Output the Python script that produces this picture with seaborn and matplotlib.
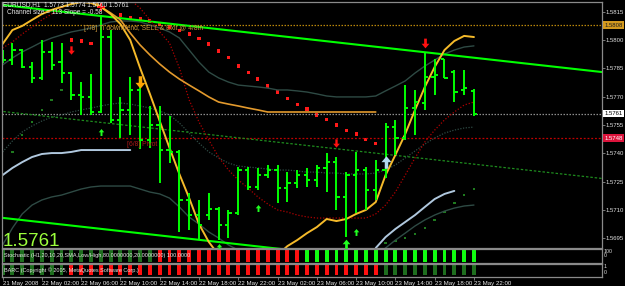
import numpy as np
import pandas as pd
import matplotlib
matplotlib.use("Agg")
import matplotlib.pyplot as plt
from matplotlib.path import Path
import matplotlib.transforms as mtransforms
import seaborn as sns

sns.set_theme(style="dark", rc={"axes.facecolor": "black", "figure.facecolor": "black"})
plt.rcParams["font.family"] = ["Liberation Sans", "DejaVu Sans"]

# ---------------- data (EURUSD H1, 21 May 2008 22:00 .. 23 May 2008 22:00) ----------------
bars = [0, 1, 2, 3, 4, 5, 6, 7, 8, 9, 10, 11, 12, 13, 14, 15, 16, 17, 18, 19, 20, 21, 22, 23, 24,
        25, 26, 27, 28, 29, 30, 31, 32, 33, 34, 35, 36, 37, 38, 39, 40, 41, 42, 43, 44, 45, 46, 47, 48]

opens = [1.57922, 1.57895, 1.57948, 1.57858, 1.57800, 1.57938, 1.57884, 1.57826, 1.57709, 1.57699,
         1.57619, 1.58017, 1.57577, 1.57630, 1.57736, 1.57470, 1.57550, 1.57417, 1.57407, 1.57152,
         1.57072, 1.57072, 1.57104, 1.57019, 1.57083, 1.57311, 1.57221, 1.57284, 1.57311, 1.57215,
         1.57242, 1.57284, 1.57258, 1.57322, 1.57353, 1.57168, 1.57284, 1.57311, 1.57205, 1.57311,
         1.57539, 1.57481, 1.57640, 1.57667, 1.57805, 1.57900, 1.57831, 1.57736, 1.5773]
highs = [1.57948, 1.57985, 1.57954, 1.57884, 1.58001, 1.57991, 1.57985, 1.57831, 1.57778, 1.57821,
         1.58134, 1.58054, 1.57699, 1.57805, 1.57752, 1.57651, 1.57651, 1.57598, 1.57417, 1.57189,
         1.57152, 1.57189, 1.57115, 1.57099, 1.57327, 1.57327, 1.57322, 1.57338, 1.57338, 1.57300,
         1.57311, 1.57322, 1.57338, 1.57401, 1.57380, 1.57300, 1.57407, 1.57327, 1.57364, 1.57561,
         1.57577, 1.57762, 1.57736, 1.57938, 1.57900, 1.57900, 1.57842, 1.57842, 1.5774]
lows = [1.57879, 1.57869, 1.57853, 1.57773, 1.57789, 1.57842, 1.57773, 1.57683, 1.57603, 1.57603,
        1.57614, 1.57561, 1.57481, 1.57497, 1.57423, 1.57428, 1.57242, 1.57348, 1.56982, 1.56992,
        1.56939, 1.57046, 1.56939, 1.56950, 1.57072, 1.57205, 1.57205, 1.57269, 1.57136, 1.57141,
        1.57215, 1.57221, 1.57221, 1.57194, 1.57099, 1.56955, 1.57083, 1.57099, 1.57152, 1.57269,
        1.57391, 1.57470, 1.57497, 1.57630, 1.57709, 1.57800, 1.57672, 1.57709, 1.5760]
closes = [1.57895, 1.57948, 1.57858, 1.57800, 1.57938, 1.57869, 1.57826, 1.57709, 1.57699, 1.57619,
          1.58017, 1.57577, 1.57630, 1.57736, 1.57470, 1.57550, 1.57417, 1.57407, 1.57152, 1.57072,
          1.57019, 1.57104, 1.57019, 1.57083, 1.57311, 1.57221, 1.57284, 1.57311, 1.57215, 1.57242,
          1.57284, 1.57258, 1.57322, 1.57353, 1.57168, 1.57284, 1.57311, 1.57205, 1.57311, 1.57539,
          1.57481, 1.57640, 1.57672, 1.57805, 1.57815, 1.57800, 1.57725, 1.57746, 1.5761]

fast_ma = [1.57980, 1.58054, 1.58076, 1.58108, 1.58139, 1.58161, 1.58177, 1.58192, 1.58203, 1.58198,
           1.58177, 1.58139, 1.58086, 1.58001, 1.57853, 1.57715, 1.57571, 1.57428, 1.57290, 1.57162,
           1.57024, 1.56929, 1.56860, 1.56822, 1.56801, 1.56791, 1.56791, 1.56807, 1.56860, 1.56907,
           1.56939, 1.56976, 1.57008, 1.57051, 1.57040, 1.57051, 1.57078, 1.57099, 1.57141, 1.57284,
           1.57391, 1.57502, 1.57630, 1.57752, 1.57858, 1.57948, 1.57996, 1.58023, 1.58017]

slow_ma_bars = [8, 9, 10, 11, 12, 13, 14, 15, 16, 17, 18, 19, 20, 21, 22, 23, 24, 25, 26, 27,
                28, 29, 30, 31, 32, 33, 34, 35, 36, 37, 38]
slow_ma = [1.58267, 1.58224, 1.58177, 1.58145, 1.58108, 1.58038, 1.57975, 1.57922, 1.57874, 1.57831,
           1.57794, 1.57762, 1.57731, 1.57699, 1.57672, 1.57661, 1.57651, 1.57640, 1.57630, 1.57619,
           1.57619, 1.57619, 1.57619, 1.57619, 1.57619, 1.57619, 1.57619, 1.57619, 1.57619, 1.57619, 1.57619]

red_env = [1.57959, 1.57991, 1.58033, 1.58070, 1.58108, 1.58139, 1.58171, 1.58198, 1.58224, 1.58240,
           1.58246, 1.58240, 1.58230, 1.58214, 1.58171, 1.58108, 1.58044, 1.57985, 1.57853, 1.57683,
           1.57566, 1.57470, 1.57380, 1.57311, 1.57258, 1.57215, 1.57168, 1.57131, 1.57099, 1.57088,
           1.57072, 1.57062, 1.57056, 1.57056, 1.57056, 1.57056, 1.57056, 1.57056, 1.57078, 1.57125,
           1.57194, 1.57284, 1.57375, 1.57460, 1.57523, 1.57577, 1.57619, 1.57656, 1.57672]

band_upper = [1.57869, 1.57906, 1.57938, 1.57964, 1.57991, 1.58012, 1.58028, 1.58044, 1.58054, 1.58065,
              1.58081, 1.58097, 1.58102, 1.58102, 1.58097, 1.58081, 1.58065, 1.58044, 1.58012, 1.57948,
              1.57884, 1.57831, 1.57800, 1.57778, 1.57762, 1.57757, 1.57752, 1.57746, 1.57736, 1.57736,
              1.57731, 1.57725, 1.57715, 1.57704, 1.57699, 1.57699, 1.57699, 1.57699, 1.57704, 1.57731,
              1.57757, 1.57784, 1.57826, 1.57863, 1.57895, 1.57927, 1.57948, 1.57964, 1.57970]
band_mid = [1.57407, 1.57465, 1.57513, 1.57545, 1.57571, 1.57592, 1.57603, 1.57619, 1.57630, 1.57640,
            1.57651, 1.57661, 1.57667, 1.57661, 1.57651, 1.57640, 1.57624, 1.57603, 1.57561, 1.57507,
            1.57454, 1.57407, 1.57375, 1.57348, 1.57332, 1.57327, 1.57322, 1.57316, 1.57311, 1.57311,
            1.57306, 1.57300, 1.57300, 1.57295, 1.57295, 1.57290, 1.57290, 1.57290, 1.57295, 1.57311,
            1.57338, 1.57375, 1.57412, 1.57449, 1.57481, 1.57507, 1.57523, 1.57534, 1.57539]
band_lower = [1.56913, 1.57003, 1.57078, 1.57125, 1.57152, 1.57168, 1.57178, 1.57194, 1.57210, 1.57221,
              1.57226, 1.57226, 1.57226, 1.57226, 1.57210, 1.57194, 1.57184, 1.57162, 1.57115, 1.57061,
              1.57024, 1.56982, 1.56950, 1.56913, 1.56886, 1.56860, 1.56860, 1.56860, 1.56860, 1.56860,
              1.56860, 1.56860, 1.56860, 1.56860, 1.56860, 1.56860, 1.56860, 1.56860, 1.56860, 1.56897,
              1.56939, 1.56976, 1.57014, 1.57046, 1.57072, 1.57093, 1.57109, 1.57120, 1.57125]

trail_a_bars = [0, 1, 2, 3, 4, 5, 6, 7, 8, 9, 10, 11, 12, 13]
trail_a = [1.57284, 1.57322, 1.57353, 1.57380, 1.57396, 1.57401, 1.57401, 1.57407, 1.57417, 1.57417,
           1.57417, 1.57417, 1.57417, 1.57417]
trail_b_bars = [38, 39, 40, 41, 42, 43, 44, 45, 46]
trail_b = [1.56897, 1.56955, 1.56998, 1.57035, 1.57072, 1.57115, 1.57157, 1.57184, 1.57200]

sar_red_bars = [7, 8, 9, 12, 13, 14, 15, 16, 17, 18, 19, 20, 21, 22, 23, 24, 25, 26, 27, 28, 29,
                30, 31, 32, 33, 34, 35, 36, 37, 38]
sar_red = [1.58001, 1.57996, 1.57985, 1.58134, 1.58123, 1.58113, 1.58102, 1.58086, 1.58070, 1.58054,
           1.58033, 1.58007, 1.57980, 1.57943, 1.57906, 1.57863, 1.57831, 1.57794, 1.57757, 1.57725,
           1.57693, 1.57661, 1.57635, 1.57603, 1.57577, 1.57550, 1.57523, 1.57502, 1.57475, 1.57454]
sar_green_bars = [1, 2, 3, 4, 5, 6, 39, 40, 41, 42, 43, 44, 45, 46, 47, 48]
sar_green = [1.57407, 1.57497, 1.57566, 1.57630, 1.57683, 1.57736, 1.56923, 1.56934, 1.56950, 1.56971,
             1.57003, 1.57046, 1.57088, 1.57136, 1.57178, 1.57210]

# channel: top line at first bar, slope per bar, size
channel_top0 = 1.58187
channel_slope = -0.0000583
channel_size = 0.0113

level_808 = 1.5808
level_last = 1.5761
level_pivot = 1.5748

dn_arrow_bars = [7, 14, 34, 43]
dn_arrow_price = [1.57948, 1.57778, 1.57454, 1.57985]
dn_arrow_color = ["#FF1010", "#FFA500", "#FF1010", "#FF1010"]
dn_arrow_size = [6, 9, 6, 7]
up_arrow_bars = [10, 22, 26, 35, 36, 39]
up_arrow_price = [1.57513, 1.56902, 1.57109, 1.56918, 1.56982, 1.57353]
up_arrow_color = ["#20FF20", "#20FF20", "#20FF20", "#20FF20", "#20FF20", "#B0D8F0"]
up_arrow_size = [5, 5, 5, 7, 5, 9]

stoch_state = ["weak"] * 16 + ["down"] * 15 + ["up"] * 18
barc_state = ["weak"] * 7 + ["down"] * 32 + ["weak"] * 10

yticks = [1.5695, 1.5710, 1.5725, 1.5740, 1.5755, 1.5770, 1.5785, 1.5800, 1.5815]
time_tick_bars = [0, 4, 8, 12, 16, 20, 24, 28, 32, 36, 40, 44, 48]
time_labels = ["21 May 2008", "22 May 02:00", "22 May 06:00", "22 May 10:00", "22 May 14:00",
               "22 May 18:00", "22 May 22:00", "23 May 02:00", "23 May 06:00", "23 May 10:00",
               "23 May 14:00", "23 May 18:00", "23 May 22:00"]

# ---------------- figure ----------------
W, H = 625, 286
fig = plt.figure(figsize=(W / 100, H / 100), dpi=100)
fig.patch.set_facecolor("black")


def box(x0, y0, x1, y1):
    return [x0 / W, 1 - y1 / H, (x1 - x0) / W, (y1 - y0) / H]


ax = fig.add_axes(box(2, 2, 602, 248))
ax1 = fig.add_axes(box(2, 249, 602, 263))
ax2 = fig.add_axes(box(2, 264, 602, 277))
XL = (-0.06, 61.04)
for a in (ax, ax1, ax2):
    a.set_facecolor("black")
    a.set_xlim(*XL)
    for s in a.spines.values():
        s.set_color("#8a8a8a")
        s.set_linewidth(0.9)
    a.grid(False)

ax.set_ylim(1.56897, 1.58203)

GRN = "#00FF00"


def line(xs, ys, **kw):
    df = pd.DataFrame({"x": xs, "y": ys}).dropna()
    sns.lineplot(data=df, x="x", y="y", ax=ax, estimator=None, sort=False, legend=False, **kw)


# horizontal levels
ax.axhline(level_808, color="#B8860B", lw=0.9, ls=(0, (1.2, 1.2)))
ax.axhline(level_last, color="#8c8c8c", lw=0.9, ls=(0, (1.2, 1.2)))
ax.axhline(level_pivot, color="#C00000", lw=0.9, ls=(0, (1.5, 1.5)))

# bands
line(bars, band_upper, color="#2E4A44", lw=1.0)
line(bars, band_lower, color="#2E4A44", lw=1.0)
line(bars, band_mid, color="#2E4A44", lw=0.9, linestyle=(0, (1, 1.2)))

# channel
cx = np.array([-1.0, 62.0])
ctop = channel_top0 + channel_slope * cx
line(cx, ctop, color=GRN, lw=1.5)
line(cx, ctop - channel_size, color=GRN, lw=1.5)
line(cx, ctop - channel_size / 2, color="#1E8C1E", lw=0.9, linestyle=(0, (2, 1.5)))

# red envelope
line(bars, red_env, color="#B00000", lw=0.9, linestyle=(0, (1, 1.5)))

# trailing lines
line(trail_a_bars, trail_a, color="#B0C8DE", lw=1.4)
line(trail_b_bars, trail_b, color="#B0C8DE", lw=1.4)

# moving averages
line(slow_ma_bars, slow_ma, color="#E39A2D", lw=1.2)
line(bars, fast_ma, color="#F5BA2A", lw=1.4)

# price bars
b = np.array(bars, dtype=float)
ax.vlines(b, lows, highs, color=GRN, lw=1.4)
ax.hlines(opens, b - 0.33, b, color=GRN, lw=1.4)
ax.hlines(closes, b, b + 0.33, color=GRN, lw=1.4)

# SAR dots
sns.scatterplot(x=sar_red_bars, y=sar_red, ax=ax, marker="s", s=5, color="#FF1A1A",
                edgecolor="none", legend=False)
sns.scatterplot(x=sar_green_bars, y=sar_green, ax=ax, marker="s", s=3, color="#1F7A1F",
                edgecolor="none", legend=False)

# arrows
up_v = [(-0.28, -1.0), (0.28, -1.0), (0.28, 0.05), (0.8, 0.05), (0.0, 1.0), (-0.8, 0.05),
        (-0.28, 0.05), (-0.28, -1.0)]
codes = [Path.MOVETO] + [Path.LINETO] * 6 + [Path.CLOSEPOLY]
up_path = Path(up_v, codes)
dn_path = Path([(x, -y) for x, y in up_v], codes)
for xb, yp, c, sz in zip(dn_arrow_bars, dn_arrow_price, dn_arrow_color, dn_arrow_size):
    ax.scatter([xb], [yp], marker=dn_path, s=sz ** 2, color=c, linewidths=0, zorder=6)
for xb, yp, c, sz in zip(up_arrow_bars, up_arrow_price, up_arrow_color, up_arrow_size):
    ax.scatter([xb], [yp], marker=up_path, s=sz ** 2, color=c, linewidths=0, zorder=6)
ax.scatter([10], [1.58177], marker="P", s=40, color="#FF1010", linewidths=0, zorder=6)

ax.set_xlabel("")
ax.set_ylabel("")

# texts in chart
ax.text(8.3, 1.58063, "[7/8] Ti downtrend, SELL & Exit @ 4/8th", color="#C8963C", fontsize=4.9,
        va="center", ha="left")
ax.text(12.7, 1.57449, "[6/8] Pivot", color="#B01818", fontsize=4.9, va="center", ha="left", zorder=7)
fig.text(3 / W, 1 - 4.5 / H, "EURUSD,H1  1.5773 1.5774 1.5760 1.5761", color="#E8E8E8",
         fontsize=4.7, va="center", ha="left")
fig.text(7 / W, 1 - 12.5 / H, "Channel size = 113 Slope = -0.58", color="#E8E8E8",
         fontsize=4.7, va="center", ha="left")
fig.text(2.5 / W, 1 - 245.5 / H, "1.5761", color="#9CFF3C", fontsize=13.5, va="baseline", ha="left")

# right price axis
ax.yaxis.tick_right()
ax.set_yticks(yticks)
ax.set_yticklabels([f"{v:.4f}" for v in yticks])
ax.tick_params(axis="y", which="both", right=True, left=False, labelright=True, labelleft=False,
               length=2.0, width=0.6, color="#8a8a8a", labelcolor="#E0E0E0", labelsize=4.3, pad=0.9)
ax.tick_params(axis="x", bottom=False, labelbottom=False)

trans = mtransforms.blended_transform_factory(ax.transAxes, ax.transData)
for val, fc, tc in [(level_808, "#D49A1E", "#202020"), (level_last, "#FFFFFF", "#000000"),
                    (level_pivot, "#DC143C", "#FFFFFF")]:
    ax.text(1.0040, val, f"{val:.4f}", transform=trans, fontsize=4.3, color=tc, va="center", ha="left",
            bbox=dict(boxstyle="square,pad=0.2", fc=fc, ec="none"), zorder=10)

# sub panels
col_map = {"weak": "#1E6E1E", "down": "#FF1010", "up": "#10FF10"}
ax1.bar(bars, [1] * len(bars), width=0.4, color=[col_map[s] for s in stoch_state], bottom=0,
        edgecolor="none", linewidth=0)
ax2.bar(bars, [1] * len(bars), width=0.4, color=[col_map[s] for s in barc_state], bottom=0,
        edgecolor="none", linewidth=0)
ax1.set_ylim(-0.12, 1.12)
ax2.set_ylim(-0.15, 1.12)
for a in (ax1, ax2):
    a.set_yticks([])
    a.tick_params(axis="x", bottom=False, labelbottom=False)
ax1.text(0.003, 0.5, "Stochastic (H1,20,10,20,SMA,Low/High,80.0000000,20.0000000) 100.0000",
         transform=ax1.transAxes, color="#E8E8E8", fontsize=4.0, va="center", ha="left")
ax2.text(0.003, 0.5, "BARC (Copyright \u00a9 2005, MetaQuotes Software Corp.)",
         transform=ax2.transAxes, color="#E8E8E8", fontsize=4.0, va="center", ha="left")
fig.text(604 / W, 1 - 251.5 / H, "100", color="#E0E0E0", fontsize=3.8, va="center", ha="left")
fig.text(604 / W, 1 - 255.5 / H, "0", color="#E0E0E0", fontsize=3.8, va="center", ha="left")
fig.text(604 / W, 1 - 266.5 / H, "1", color="#E0E0E0", fontsize=3.8, va="center", ha="left")
fig.text(604 / W, 1 - 272 / H, "0", color="#E0E0E0", fontsize=3.8, va="center", ha="left")

# time axis
ax2.set_xticks(time_tick_bars)
ax2.set_xticklabels(time_labels)
ax2.tick_params(axis="x", bottom=True, labelbottom=True, length=2, width=0.6, color="#8a8a8a",
                labelcolor="#E8E8E8", labelsize=4.4, pad=0.8)
for lbl in ax2.get_xticklabels():
    lbl.set_horizontalalignment("left")

fig.savefig("out.png", dpi=100, facecolor="black")
